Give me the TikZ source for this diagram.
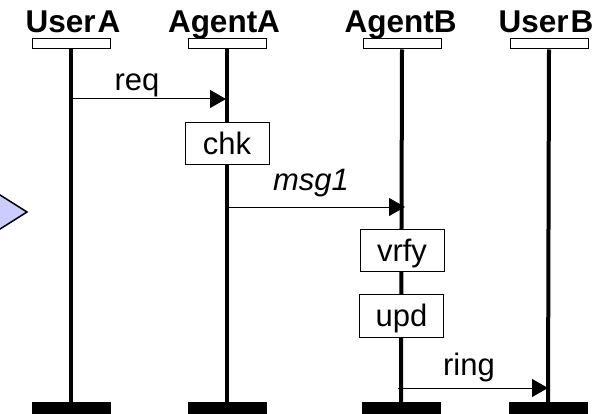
\documentclass[tikz,border=0pt]{standalone}
\usepackage{fontspec}
\setmainfont{Liberation Sans}
\usetikzlibrary{arrows.meta}
\definecolor{lavender}{RGB}{204,204,255}
\begin{document}
\begin{tikzpicture}[x=1pt,y=-1pt,
  head/.style={font=\fontsize{31.5}{36}\selectfont\bfseries, anchor=base, inner sep=0pt},
  headbox/.style={draw, line width=1pt, fill=white, minimum width=78pt, minimum height=10pt, inner sep=0pt},
  footbar/.style={fill=black, minimum width=79pt, minimum height=12pt, inner sep=0pt},
  life/.style={line width=4pt},
  act/.style={draw, line width=1pt, fill=white, minimum width=84pt, minimum height=42pt,
    inner sep=0pt, text height=22pt, text depth=0pt, font=\fontsize{31}{36}\selectfont},
  msg/.style={line width=1pt, -{Triangle[length=16pt,width=18pt]}},
  lbl/.style={font=\fontsize{31}{36}\selectfont, anchor=base, inner sep=0pt}]
\useasboundingbox (0,0) rectangle (604,414);

% pointer at the left edge
\begin{scope}
  \clip (0,0) rectangle (604,414);
  \draw[fill=lavender, line width=1.5pt, line join=miter] (-30,176) -- (27,212) -- (-30,248) -- cycle;
\end{scope}

% participant names
\node[head] (tA) at (73,33) {User\kern2pt A};
\node[head] (tB) at (224,33) {AgentA};
\node[head] (tC) at (400.5,33) {AgentB};
\node[head] (tD) at (546,33) {User\kern2pt B};

% header boxes and end bars
\node[headbox] (hA) at (71,44) {};
\node[headbox] (hB) at (227,44) {};
\node[headbox] (hC) at (402,44) {};
\node[headbox] (hD) at (549,44) {};
\node[footbar] (fA) at (71,408) {};
\node[footbar] (fB) at (227,408) {};
\node[footbar] (fC) at (401,408) {};
\node[footbar] (fD) at (548,408) {};

% lifelines
\draw[life] (hA.south) -- (fA.north);
\draw[life] (hB.south) -- (fB.north);
\draw[life] (hC.south) -- (fC.north);
\draw[life] (hD.south) -- (fD.north);

% actions
\node[act] (chk) at (227,143.5) {chk};
\node[act] (vrfy) at (402,250) {vrfy};
\node[act, minimum height=43pt] (upd) at (401.5,315.5) {upd};

% messages
\coordinate (reqS) at (71,99);
\coordinate (reqE) at (226,99);
\draw[msg] (reqS) -- (reqE);
\node[lbl] (reqL) at (137,91) {req};

\coordinate (m1S) at (227,207);
\coordinate (m1E) at (405,207);
\draw[msg] (m1S) -- (m1E);
\node[lbl] (m1L) at (311,190) {\itshape msg1};

\coordinate (rgS) at (398,388);
\coordinate (rgE) at (548,388);
\draw[msg] (rgS) -- (rgE);
\node[lbl] (rgL) at (469,375) {ring};
\end{tikzpicture}
\end{document}
